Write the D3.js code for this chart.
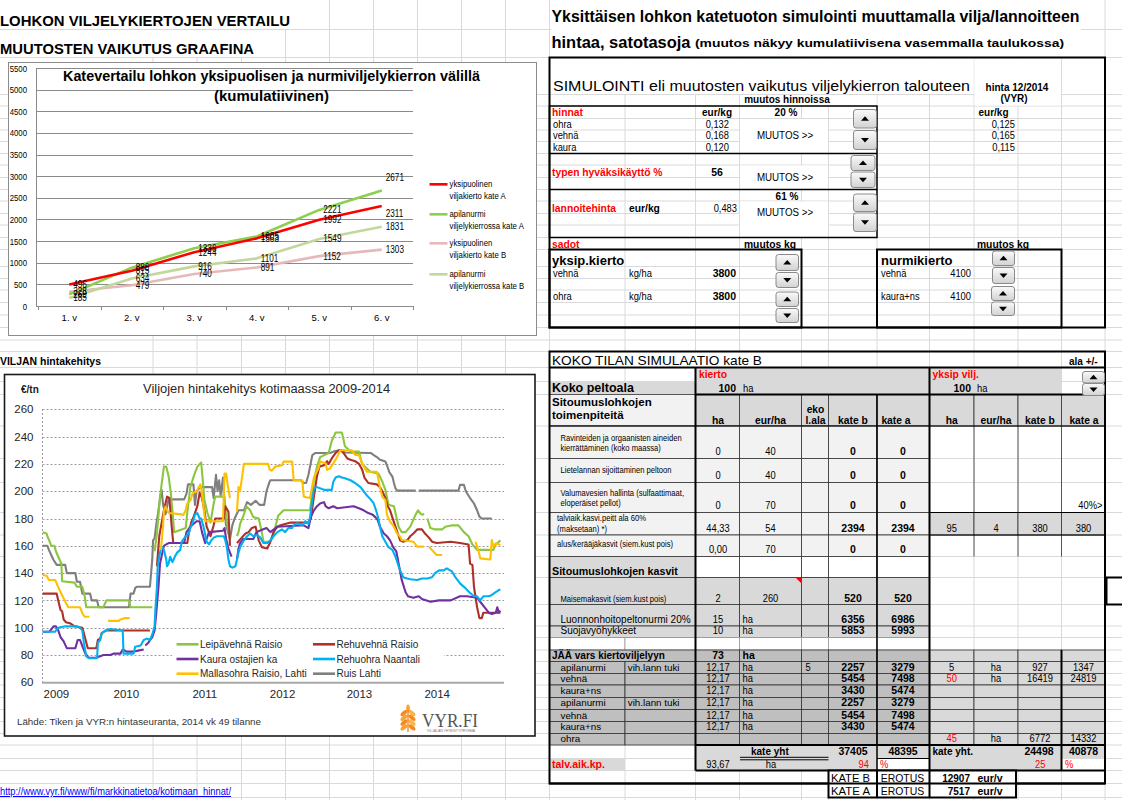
<!DOCTYPE html>
<html>
<head>
<meta charset="utf-8">
<script src="https://cdn.jsdelivr.net/npm/d3@7"></script>
<style>
  body { margin: 0; background: #fff; }
  svg { display: block; }
</style>
</head>
<body>
<script>
// ---------- kate chart (kumulatiivinen) ----------
var vuodet = ["1. v", "2. v", "3. v", "4. v", "5. v", "6. v"];
var kateTicks = [0, 500, 1000, 1500, 2000, 2500, 3000, 3500, 4000, 4500, 5000, 5500];
var yksipuolinenA = [496, 815, 1244, 1563, 1992, 2311];
var apilanurmiA = [269, 886, 1336, 1605, 2221, 2671];
var yksipuolinenB = [328, 479, 740, 891, 1152, 1303];
var apilanurmiB = [185, 634, 916, 1101, 1549, 1831];
var kateNimet = [["yksipuolinen", "viljakierto kate A"], ["apilanurmi", "viljelykierrossa kate A"],
                 ["yksipuolinen", "viljakierto kate B"], ["apilanurmi", "viljelykierrossa kate B"]];

// ---------- viljojen hinnat 2009-2014 (€/tn), segments of [vuosi, hinta] ----------
var hintaTicks = [60, 80, 100, 120, 140, 160, 180, 200, 220, 240, 260];
var vuosiLabels = ["2009", "2010", "2011", "2012", "2013", "2014"];
var vuosiPos = [2009.21, 2010.11, 2011.12, 2012.12, 2013.11, 2014.11];

var leipavehna = [
  [[2009.04,170],[2009.09,169],[2009.10,167],[2009.13,163],[2009.15,160],[2009.19,160],[2009.21,156],[2009.24,152],[2009.28,147],[2009.29,134],[2009.45,133],[2009.48,130],[2009.55,130],[2009.58,123],[2009.60,115],[2009.82,115],[2009.86,120],[2010.15,120],[2010.17,115],[2010.45,115]],
  [[2010.48,156],[2010.51,169],[2010.55,196],[2010.60,218],[2010.63,218],[2010.66,211],[2010.69,198],[2010.72,179],[2010.73,170],[2010.83,172],[2010.88,173],[2010.90,184],[2010.94,203],[2010.99,212],[2011.03,218],[2011.08,221],[2011.10,208],[2011.12,194],[2011.16,184],[2011.20,177],[2011.24,191],[2011.26,196],[2011.38,196],[2011.40,181],[2011.44,167]],
  [[2011.54,167],[2011.56,170],[2011.58,176],[2011.63,183],[2011.66,189],[2011.71,186],[2011.75,181],[2011.82,180],[2011.86,170],[2011.88,163],[2011.96,163],[2012.00,166],[2012.03,173],[2012.07,182],[2012.14,186],[2012.48,186],[2012.53,208],[2012.57,218],[2012.61,225],[2012.72,228],[2012.76,237],[2012.81,243],[2012.89,243],[2012.93,233],[2013.00,229],[2013.11,229],[2013.15,220],[2013.26,214],[2013.36,213],[2013.41,207],[2013.45,201],[2013.49,190],[2013.56,189],[2013.62,174],[2013.66,170],[2013.71,170],[2013.77,174],[2013.84,183],[2013.87,186],[2013.91,183],[2013.95,183]],
  [[2013.99,180],[2014.03,173],[2014.09,172],[2014.18,172],[2014.22,174],[2014.31,175],[2014.39,175],[2014.46,170],[2014.52,167],[2014.57,161],[2014.63,157],[2014.84,157],[2014.87,161],[2014.93,164]]
];
var rehuvehna = [
  [[2009.04,125],[2009.22,125],[2009.24,120],[2009.27,113],[2009.29,112],[2009.31,106],[2009.34,104],[2009.40,103],[2009.45,101],[2009.55,100],[2009.57,96],[2009.62,85],[2009.73,85],[2009.75,91],[2009.78,92],[2009.80,96],[2009.86,98],[2010.42,98]],
  [[2010.51,145],[2010.54,167],[2010.60,186],[2010.64,196],[2010.67,195],[2010.70,174],[2010.72,162],[2010.90,162],[2010.92,169],[2010.95,177],[2010.98,181],[2011.03,189],[2011.06,199],[2011.09,195],[2011.12,186],[2011.15,174],[2011.20,167],[2011.24,175],[2011.26,180],[2011.37,180],[2011.39,189],[2011.43,185],[2011.45,160]],
  [[2011.54,162],[2011.57,164],[2011.65,169],[2011.69,170],[2011.73,173],[2011.78,174],[2011.80,169],[2011.82,164],[2011.86,159],[2011.93,158],[2011.97,163],[2012.01,170],[2012.06,174],[2012.10,175],[2012.23,177],[2012.46,177],[2012.49,180],[2012.53,196],[2012.57,211],[2012.60,218],[2012.66,219],[2012.70,222],[2012.72,220],[2012.76,224],[2012.81,228],[2012.85,230],[2012.88,230],[2012.91,228],[2012.96,224],[2013.00,223],[2013.06,222],[2013.11,220],[2013.15,216],[2013.18,210],[2013.23,206],[2013.34,205],[2013.38,203],[2013.41,200],[2013.45,195],[2013.48,189],[2013.51,186],[2013.55,179],[2013.58,174],[2013.61,169],[2013.64,164],[2013.68,163],[2013.73,164],[2013.77,167],[2013.81,169],[2013.86,172],[2013.92,172],[2013.96,169],[2014.01,166],[2014.05,163],[2014.11,162],[2014.29,163],[2014.41,162],[2014.52,161],[2014.54,147],[2014.57,146],[2014.59,130],[2014.63,115],[2014.66,107],[2014.69,107],[2014.71,111],[2014.93,111]]
];
var kaura = [
  [[2009.04,97],[2009.12,97],[2009.14,98],[2009.18,101],[2009.21,101],[2009.24,98],[2009.27,93],[2009.31,90],[2009.35,85],[2009.46,85],[2009.49,91],[2009.52,91],[2009.56,85],[2009.59,81],[2009.63,78],[2009.72,78],[2009.78,79],[2009.82,80],[2009.91,80],[2009.95,81],[2010.04,81],[2010.07,84],[2010.12,82.5],[2010.21,82.5],[2010.25,83],[2010.34,84]],
  [[2010.36,87],[2010.40,89],[2010.42,91],[2010.45,93],[2010.48,98],[2010.50,110],[2010.53,130],[2010.55,147],[2010.58,155],[2010.60,160],[2010.63,161],[2010.66,162],[2010.86,162],[2010.89,170],[2010.94,174],[2010.98,176],[2011.02,178],[2011.06,178],[2011.09,170],[2011.13,162],[2011.18,170],[2011.36,171],[2011.38,173],[2011.40,165],[2011.43,158],[2011.47,152]],
  [[2011.54,150],[2011.56,158],[2011.58,162],[2011.62,165],[2011.75,165],[2011.79,170],[2011.87,172],[2011.92,173],[2011.97,170],[2012.06,174],[2012.23,174.5],[2012.40,175],[2012.46,173],[2012.49,181],[2012.53,186],[2012.57,189],[2012.61,191],[2012.66,192],[2012.68,189],[2012.72,187.5],[2012.78,189],[2012.83,187.5],[2013.04,189],[2013.11,187.5],[2013.17,186],[2013.23,184],[2013.28,183],[2013.32,181],[2013.35,179],[2013.38,174],[2013.43,169],[2013.47,167],[2013.51,164],[2013.55,159],[2013.59,156],[2013.62,147],[2013.66,135],[2013.71,126],[2013.74,123],[2013.81,122],[2013.88,123],[2013.92,121],[2014.03,119],[2014.14,120],[2014.29,120],[2014.41,123],[2014.50,123],[2014.63,122],[2014.67,119],[2014.74,114],[2014.78,111],[2014.82,110],[2014.87,111],[2014.89,115],[2014.91,111],[2014.93,112.5]]
];
var rehuohra = [
  [[2009.04,97],[2009.20,97],[2009.21,98],[2009.24,100],[2009.33,101],[2009.48,101],[2009.52,100],[2009.55,98],[2009.57,89],[2009.60,79],[2009.64,77.6],[2009.74,77.6],[2009.75,89],[2009.78,91],[2009.80,96],[2009.85,98],[2009.91,99],[2010.07,98],[2010.08,81],[2010.21,81],[2010.23,86],[2010.30,87],[2010.34,91],[2010.38,92],[2010.42,91],[2010.45,95],[2010.48,101],[2010.49,113],[2010.51,130],[2010.52,145],[2010.54,152],[2010.56,158],[2010.58,159],[2010.60,157],[2010.63,150],[2010.64,145],[2010.66,147],[2010.68,152],[2010.71,148],[2010.74,152],[2010.77,155],[2010.81,157],[2010.83,163],[2010.88,167],[2010.92,169],[2010.94,173],[2010.97,177],[2011.00,183],[2011.03,184],[2011.06,180],[2011.08,180],[2011.11,174],[2011.15,163],[2011.18,161],[2011.21,164],[2011.24,166],[2011.28,167],[2011.37,167],[2011.39,164],[2011.41,159],[2011.43,150],[2011.45,145],[2011.48,144],[2011.52,145],[2011.54,150],[2011.56,155],[2011.58,159],[2011.63,164],[2011.67,167],[2011.71,169],[2011.75,167],[2011.80,168],[2011.84,166],[2011.88,162],[2011.93,162],[2011.97,164],[2012.01,167],[2012.06,170],[2012.12,172],[2012.16,170],[2012.20,173],[2012.25,173],[2012.27,175],[2012.31,176.5],[2012.38,175],[2012.42,178],[2012.46,176],[2012.48,181],[2012.51,194],[2012.53,202],[2012.57,203],[2012.66,201],[2012.76,201],[2012.78,207],[2012.81,210],[2012.85,211],[2012.89,210],[2012.93,209.5],[2013.00,208],[2013.06,206],[2013.13,203],[2013.17,200],[2013.21,197],[2013.26,194],[2013.30,191],[2013.33,186],[2013.36,180],[2013.38,174],[2013.41,167],[2013.45,163],[2013.49,159],[2013.54,157],[2013.58,152],[2013.62,145],[2013.64,142],[2013.68,137],[2013.73,136],[2013.77,135.5],[2013.86,135],[2013.92,136],[2013.99,136],[2014.05,137],[2014.09,140],[2014.14,142],[2014.20,142],[2014.24,143.5],[2014.31,141],[2014.35,137],[2014.41,132.5],[2014.48,129],[2014.53,126],[2014.59,123],[2014.63,123],[2014.67,120],[2014.71,123],[2014.78,123],[2014.82,124],[2014.87,126],[2014.91,127.6],[2014.93,128]]
];
var mallasohra = [
  [[2009.04,138.6],[2009.09,138],[2009.12,135],[2009.20,135],[2009.23,131],[2009.27,126],[2009.31,121.5],[2009.34,118],[2009.37,115],[2009.52,115],[2009.55,110.6],[2009.58,108],[2009.64,108]],
  [[2009.88,105],[2010.02,105],[2010.04,106],[2010.09,107],[2010.16,107]],
  [[2010.56,157],[2010.59,175],[2010.60,186],[2010.62,188.7],[2010.66,184],[2010.83,183],[2010.85,182.6],[2010.88,186],[2010.90,191],[2010.94,193],[2010.97,198.5],[2011.02,200],[2011.07,205],[2011.09,198],[2011.13,178],[2011.36,178],[2011.38,213],[2011.40,213],[2011.42,205],[2011.45,195]],
  [[2011.54,185],[2011.56,203],[2011.58,200],[2011.63,220],[2011.94,220],[2011.96,216],[2011.99,215],[2012.03,218],[2012.12,219],[2012.14,221.7],[2012.25,221.7],[2012.27,208],[2012.38,208],[2012.40,196],[2012.48,195],[2012.53,210],[2012.59,217],[2012.61,221.7],[2012.68,220.4],[2012.70,215.6],[2012.74,216.8],[2012.78,220.4],[2012.83,225.3],[2012.87,230],[2013.02,230],[2013.06,226.5],[2013.11,226.5],[2013.15,220.4],[2013.21,214.3],[2013.34,214.3],[2013.38,203],[2013.41,196],[2013.45,193.6],[2013.47,182.6],[2013.51,177.7],[2013.56,174],[2013.60,169],[2013.64,166.7],[2013.66,164.3],[2013.81,163],[2013.86,159.4],[2013.94,159.4]],
  [[2014.01,159.4],[2014.07,155.7],[2014.11,153.3],[2014.18,153.3]],
  [[2014.61,163],[2014.65,155.7],[2014.67,150.8],[2014.80,150],[2014.82,164.3],[2014.84,159.4],[2014.87,161.8],[2014.93,160.6]]
];
var ruis = [
  [[2009.04,160],[2009.10,160],[2009.12,157],[2009.16,152],[2009.18,149.6],[2009.22,146],[2009.33,146],[2009.35,140],[2009.46,140],[2009.48,133.7],[2009.52,133.7],[2009.55,125],[2009.65,125],[2009.67,120],[2009.74,120],[2009.76,115],[2010.15,115],[2010.17,125],[2010.21,125],[2010.23,129],[2010.25,130],[2010.42,130],[2010.45,150],[2010.46,164],[2010.48,165.5],[2010.50,175],[2010.53,186],[2010.55,195],[2010.57,201],[2010.59,190],[2010.62,183],[2010.66,194],[2010.86,194],[2010.89,198],[2010.91,205],[2010.98,205],[2011.00,190],[2011.02,200],[2011.07,203],[2011.22,203],[2011.24,195],[2011.27,212],[2011.29,200],[2011.31,208],[2011.33,197],[2011.36,210],[2011.38,185],[2011.40,175],[2011.45,165],[2011.48,175],[2011.51,180],[2011.56,186],[2011.63,186],[2011.67,192],[2011.72,190],[2011.78,193],[2011.83,190],[2011.89,190],[2011.92,200],[2011.96,207],[2011.97,208],[2012.36,208],[2012.40,206],[2012.43,206],[2012.46,212],[2012.51,226.5],[2012.55,228],[2012.74,228],[2012.78,229],[2012.83,229.7],[2012.91,229.7],[2012.93,228.3],[2013.26,228],[2013.30,226.5],[2013.34,225],[2013.38,223],[2013.45,221.7],[2013.47,219],[2013.50,214],[2013.54,210.7],[2013.56,206],[2013.58,202],[2013.60,200.4],[2013.84,200.4]],
  [[2013.88,200.4],[2014.39,200.4],[2014.41,204.6],[2014.46,204.6],[2014.48,201],[2014.50,198.5],[2014.54,195],[2014.59,191],[2014.63,186],[2014.66,181.4],[2014.69,180],[2014.82,180]]
];
var hintaNimet = ["Leipävehnä Raisio", "Rehuvehnä Raisio", "Kaura ostajien ka", "Rehuohra Naantali", "Mallasohra Raisio, Lahti", "Ruis Lahti"];

// ---------- simulointi taulukot ----------
var hinnat = [["ohra", "0,132", "0,125"], ["vehnä", "0,168", "0,165"], ["kaura", "0,120", "0,115"]];
var hintaMuutos = "20 %", typenHyoty = "56", lannoiteMuutos = "61 %", lannoiteHinta = "0,483";
var yksipSadot = [["vehnä", "kg/ha", "3800"], ["ohra", "kg/ha", "3800"]];
var nurmiSadot = [["vehnä", "4100"], ["kaura+ns", "4100"]];

var toimenpiteet = [
  {teksti: ["Ravinteiden ja orgaanisten aineiden", "kierrättäminen (koko maassa)"], arvot: ["0", "40", "0", "0"]},
  {teksti: ["Lietelannan sijoittaminen peltoon"], arvot: ["0", "40", "0", "0"]},
  {teksti: ["Valumavesien hallinta (sulfaattimaat,", "eloperäiset pellot)"], arvot: ["0", "70", "0", "0"], oikea: ["", "", "", "40%>"]},
  {teksti: ["talviaik.kasvi.peitt ala 60%", "(maksetaan) *)"], arvot: ["44,33", "54", "2394", "2394"], oikea: ["95", "4", "380", "380"]},
  {teksti: ["alus/kerääjäkasvit (siem.kust pois)"], arvot: ["0,00", "70", "0", "0"]}
];
var kasvit = [["Maisemakasvit (siem.kust pois)", "2", "260", "520", "520"],
              ["Luonnonhoitopeltonurmi 20%", "15", "ha", "6356", "6986"],
              ["Suojavyöhykkeet", "10", "ha", "5853", "5993"]];
var kierto = [["apilanurmi", "vih.lann tuki", "12,17", "ha", "5", "2257", "3279"],
              ["vehnä", "", "12,17", "ha", "", "5454", "7498"],
              ["kaura+ns", "", "12,17", "ha", "", "3430", "5474"],
              ["apilanurmi", "vih.lann tuki", "12,17", "ha", "", "2257", "3279"],
              ["vehnä", "", "12,17", "ha", "", "5454", "7498"],
              ["kaura+ns", "", "12,17", "ha", "", "3430", "5474"],
              ["ohra", "", "", "", "", "", ""]];
var yksipVilj = [["5", "ha", "927", "1347"], ["50", "ha", "16419", "24819"], null, null, null, null, ["45", "ha", "6772", "14332"]];
var kateYht = ["37405", "48395", "24498", "40878"];
var talvAik = ["93,67", "94", "25"];
var erotus = [["KATE B", "12907"], ["KATE A", "7517"]];

// =====================================================================
var W = 1122, H = 800;
var SANS = '"Liberation Sans", Arial, sans-serif';
var NW = 0.82;   // horizontal squeeze used for the narrow spreadsheet font
var svg = d3.select("body").append("svg").attr("width", W).attr("height", H);
svg.append("rect").attr("width", W).attr("height", H).attr("fill", "#fff");

function txt(g, x, y, s, o) {
  o = o || {};
  var t = g.append("text").text(s)
    .attr("font-family", o.f || SANS).attr("font-size", o.sz || 10)
    .attr("fill", o.c || "#000");
  if (o.n) t.attr("transform", "translate(" + x + "," + y + ") scale(" + o.n + ",1)");
  else t.attr("x", x).attr("y", y);
  if (o.b) t.attr("font-weight", "bold");
  if (o.a) t.attr("text-anchor", o.a);
  if (o.tl) t.attr("textLength", o.tl).attr("lengthAdjust", "spacingAndGlyphs");
  if (o.u) t.attr("text-decoration", "underline");
  return t;
}
function box(g, x0, y0, x1, y1, fill, stroke, sw) {
  return g.append("rect").attr("x", x0).attr("y", y0).attr("width", x1 - x0).attr("height", y1 - y0)
    .attr("fill", fill || "none").attr("stroke", stroke || "none").attr("stroke-width", sw || 1);
}
function ln(g, x0, y0, x1, y1, c, sw, dash) {
  var l = g.append("line").attr("x1", x0).attr("y1", y0).attr("x2", x1).attr("y2", y1)
    .attr("stroke", c || "#000").attr("stroke-width", sw || 1);
  if (dash) l.attr("stroke-dasharray", dash);
  return l;
}

// ---------- sheet grid ----------
var sheetCols = [153, 197, 241.5, 285.5, 329.5, 373.5, 417.5, 461.5, 505.5, 549.5, 625, 695.5, 739.5, 801.5, 828.5, 877, 929.5, 974, 1018, 1061.5, 1105];
var sheetRows = [29.5, 57.5, 94.5, 106, 118.5, 130, 141.5, 153.5, 165, 177.5, 189.5, 201, 213.5, 225, 237.5, 249.5, 266.5, 278.5, 290, 302.5, 315, 327.5, 340, 351.5, 367.5, 381.5, 394.5, 426, 458.5, 482.5, 512.5, 535, 556.5, 577.5, 604.5, 626, 637.5, 650, 661.5, 673.5, 685, 697.5, 709.5, 721.5, 733.5, 745, 758.5, 770.5, 783.5, 797.5];
var grid = svg.append("g");
sheetCols.forEach(function (x) { ln(grid, x, 0, x, H, "#dadada", 1); });
sheetRows.forEach(function (y) { ln(grid, 0, y, W, y, "#dadada", 1); });
var masks = [[0, 0, 329, 29], [0, 30, 285, 57], [551, 0, 1081, 57],
             [551, 58.5, 973.5, 94], [974.5, 58.5, 1061, 105.5], [740, 95, 876.5, 105.5],
             [740, 119, 828, 153], [740, 165.5, 828, 189], [740, 201.5, 828, 237], [551, 352.5, 800, 367]];
masks.forEach(function (m) { box(grid, m[0], m[1], m[2], m[3], "#fff"); });

// ---------- left titles ----------
txt(svg, 0, 26, "LOHKON VILJELYKIERTOJEN VERTAILU", {b: 1, sz: 15, tl: 290});
txt(svg, 0, 53.5, "MUUTOSTEN VAIKUTUS GRAAFINA", {b: 1, sz: 15, tl: 254});

// ---------- kate chart ----------
var c1 = svg.append("g");
box(c1, 8.5, 62.5, 536.5, 335.5, "#fff", "#8c8c8c", 1);
var yK = d3.scaleLinear().domain([0, 5500]).range([306, 68]);
var xK = d3.scaleBand().domain(vuodet).range([38, 413]);
kateTicks.forEach(function (v) { ln(c1, 36, Math.round(yK(v)) + 0.5, 413, Math.round(yK(v)) + 0.5, "#8a8a8a", 1); });
ln(c1, 36.5, 68, 36.5, 306, "#8a8a8a", 1);
d3.range(7).forEach(function (i) { var x = Math.round(38 + i * xK.bandwidth()) + 0.5; ln(c1, x, 306, x, 310, "#8a8a8a", 1); });
var axL = c1.append("g").attr("transform", "translate(36,0)")
  .call(d3.axisLeft(yK).tickValues(kateTicks).tickFormat(d3.format("d")).tickSize(0).tickPadding(11));
axL.select(".domain").remove();
axL.selectAll("text").attr("font-family", SANS).attr("font-size", 9.5).attr("fill", "#000").attr("transform", "scale(" + NW + ",1)");
var axB = c1.append("g").attr("transform", "translate(0,306)")
  .call(d3.axisBottom(xK).tickSize(0).tickPadding(8));
axB.select(".domain").remove();
axB.selectAll("text").attr("font-family", SANS).attr("font-size", 9.5).attr("fill", "#000");

txt(c1, 271.5, 80.5, "Katevertailu lohkon yksipuolisen ja nurmiviljelykierron välillä", {b: 1, sz: 14.5, a: "middle", tl: 417});
txt(c1, 271.5, 101, "(kumulatiivinen)", {b: 1, sz: 14.5, a: "middle", tl: 115});

var kateSarjat = [
  {arvot: yksipuolinenB, vari: "#e6b9b8", leg: 2},
  {arvot: apilanurmiB, vari: "#c3d69b", leg: 3},
  {arvot: apilanurmiA, vari: "#8ccf4d", leg: 1},
  {arvot: yksipuolinenA, vari: "#ff0000", leg: 0}
];
var lineK = d3.line().x(function (d, i) { return xK(vuodet[i]) + xK.bandwidth() / 2; }).y(function (d) { return yK(d); });
kateSarjat.forEach(function (s) {
  c1.append("path").attr("d", lineK(s.arvot)).attr("fill", "none").attr("stroke", s.vari)
    .attr("stroke-width", 2.6).attr("stroke-linejoin", "round");
});
var labelShift = {"1-5": -13, "0-5": 8};
kateSarjat.forEach(function (s) {
  s.arvot.forEach(function (v, i) {
    var dy = labelShift[s.leg + "-" + i] || 0;
    txt(c1, xK(vuodet[i]) + xK.bandwidth() / 2 + 4, yK(v) + 3.5 + dy, v, {n: NW, sz: 10});
  });
});
var legY = [184.3, 214.3, 243.3, 274.3];
[0, 1, 2, 3].forEach(function (i) {
  var s = kateSarjat.filter(function (d) { return d.leg === i; })[0];
  ln(c1, 429.5, legY[i], 447.5, legY[i], s.vari, 2.6);
  txt(c1, 449.5, legY[i] + 3, kateNimet[i][0], {n: NW, sz: 9.5});
  txt(c1, 449.5, legY[i] + 14.5, kateNimet[i][1], {n: NW, sz: 9.5});
});

// ---------- price chart ----------
txt(svg, 0, 365, "VILJAN hintakehitys", {b: 1, sz: 10, tl: 101});
var gP = svg.append("g");
box(gP, 4.5, 374.5, 535, 736, "#fff", "#1a1a1a", 1.6);
var xP = d3.scaleLinear().domain([2009.04, 2014.93]).range([42.7, 500.4]);
var yP = d3.scaleLinear().domain([60, 260]).range([682.3, 409.3]);
txt(gP, 21, 393, "€/tn", {b: 1, sz: 10, c: "#1a1a1a"});
txt(gP, 266.6, 393, "Viljojen hintakehitys  kotimaassa 2009-2014", {sz: 12.5, a: "middle", c: "#262626", tl: 247});
hintaTicks.slice(1).forEach(function (v) { ln(gP, 42.5, Math.round(yP(v)) + 0.5, 504, Math.round(yP(v)) + 0.5, "#9a9a9a", 1, "2,2"); });
ln(gP, 42.5, 409, 42.5, 682.3, "#9a9a9a", 1, "2,2");
ln(gP, 42, 682.8, 504, 682.8, "#a8a8a8", 2);
var axPL = gP.append("g").attr("transform", "translate(42.5,0)")
  .call(d3.axisLeft(yP).tickValues(hintaTicks).tickSize(0).tickPadding(9));
axPL.select(".domain").remove();
axPL.selectAll("text").attr("font-family", SANS).attr("font-size", 11.5).attr("fill", "#262626");
var axPB = gP.append("g").attr("transform", "translate(0,682.3)")
  .call(d3.axisBottom(xP).tickValues(vuosiPos).tickFormat(function (d, i) { return vuosiLabels[i]; }).tickSize(0).tickPadding(8));
axPB.select(".domain").remove();
axPB.selectAll("text").attr("font-family", SANS).attr("font-size", 11.5).attr("fill", "#262626");

box(gP, 172, 636, 444, 680, "#fff");
var hintaSarjat = [
  {data: ruis, vari: "#7f7f7f"},
  {data: leipavehna, vari: "#8cc63f"},
  {data: rehuvehna, vari: "#ad3128"},
  {data: kaura, vari: "#7030a0"},
  {data: rehuohra, vari: "#00b0f0"},
  {data: mallasohra, vari: "#ffc000"}
];
var lineP = d3.line().x(function (d) { return xP(d[0]); }).y(function (d) { return yP(d[1]); });
hintaSarjat.forEach(function (s) {
  s.data.forEach(function (seg) {
    gP.append("path").attr("d", lineP(seg)).attr("fill", "none").attr("stroke", s.vari)
      .attr("stroke-width", 2.1).attr("stroke-linejoin", "round");
  });
});
var legVari = ["#8cc63f", "#ad3128", "#7030a0", "#00b0f0", "#ffc000", "#7f7f7f"];
var legRowY = [644.3, 659, 673.7];
hintaNimet.forEach(function (n, i) {
  var col = i % 2, row = Math.floor(i / 2);
  var x0 = col ? 313 : 176.5, y = legRowY[row];
  ln(gP, x0, y, x0 + 22, y, legVari[i], 2.6);
  txt(gP, x0 + 23.5, y + 3.6, n, {sz: 10, c: "#262626"});
});
txt(gP, 17, 724.5, "Lähde: Tiken ja VYR:n  hintaseuranta, 2014 vk 49 tilanne", {sz: 9.7, c: "#333", tl: 244});
// VYR.FI logo
var logo = gP.append("g");
[0, 1, 2, 3].forEach(function (i) {
  logo.append("ellipse").attr("cx", 404).attr("cy", 713 + i * 4.8).attr("rx", 4.2).attr("ry", 2)
    .attr("transform", "rotate(-40," + 404 + "," + (713 + i * 4.8) + ")").attr("fill", i % 2 ? "#f7a136" : "#f58a1f");
  logo.append("ellipse").attr("cx", 412).attr("cy", 713 + i * 4.8).attr("rx", 4.2).attr("ry", 2)
    .attr("transform", "rotate(40," + 412 + "," + (713 + i * 4.8) + ")").attr("fill", i % 2 ? "#f58a1f" : "#fbb351");
});
logo.append("ellipse").attr("cx", 408).attr("cy", 708.5).attr("rx", 1.8).attr("ry", 4).attr("fill", "#f7a136");
logo.append("rect").attr("x", 407.3).attr("y", 710).attr("width", 1.4).attr("height", 22).attr("fill", "#f58a1f");
txt(logo, 422, 727, "VYR.FI", {f: '"Liberation Serif", "DejaVu Serif", serif', sz: 19, c: "#555", tl: 56});
txt(logo, 427, 732, "VILJALAN YHTEISTYÖRYHMÄ", {sz: 3, c: "#777", tl: 48});

txt(svg, 0, 795, "http://www.vyr.fi/www/fi/markkinatietoa/kotimaan_hinnat/", {sz: 10, c: "#0000ff", u: 1, tl: 231});

// ---------- right header ----------
txt(svg, 551.5, 22, "Yksittäisen lohkon katetuoton simulointi muuttamalla vilja/lannoitteen", {b: 1, sz: 17, tl: 528});
txt(svg, 551.5, 47.5, "hintaa, satotasoja", {b: 1, sz: 17, tl: 139});
txt(svg, 695, 47, "(muutos näkyy kumulatiivisena vasemmalla taulukossa)", {b: 1, sz: 11, tl: 369});

// ---------- buttons ----------
var defs = svg.append("defs");
var gr = defs.append("linearGradient").attr("id", "btn").attr("x1", 0).attr("y1", 0).attr("x2", 0).attr("y2", 1);
gr.append("stop").attr("offset", "0").attr("stop-color", "#fafafa");
gr.append("stop").attr("offset", "1").attr("stop-color", "#d2d2d2");
function nappi(g, x, y, w, h, up) {
  g.append("rect").attr("x", x + 0.5).attr("y", y + 0.5).attr("width", w).attr("height", h).attr("rx", 2.5)
    .attr("fill", "url(#btn)").attr("stroke", "#8a8a8a");
  var cx = x + w / 2 + 0.5, cy = y + h / 2 + 0.5;
  var p = up ? [[cx - 4, cy + 2], [cx + 4, cy + 2], [cx, cy - 2.5]] : [[cx - 4, cy - 2], [cx + 4, cy - 2], [cx, cy + 2.5]];
  g.append("path").attr("d", "M" + p.join("L") + "Z").attr("fill", "#000");
}

// ---------- SIMULOINTI panel ----------
var sp = svg.append("g");
var R = {n: 0.85, sz: 11};   // regular narrow cell text
txt(sp, 553, 90.5, "SIMULOINTI eli muutosten vaikutus viljelykierron talouteen", {sz: 14, tl: 417});
txt(sp, 1017, 90.5, "hinta 12/2014", {b: 1, sz: 10, a: "middle"});
txt(sp, 1014, 101.5, "(VYR)", {b: 1, sz: 10, a: "middle"});
txt(sp, 787, 103, "muutos hinnoissa", {b: 1, sz: 10, a: "middle"});
txt(sp, 552, 115.5, "hinnat", {b: 1, sz: 10.3, c: "#ff0000"});
txt(sp, 717, 115.5, "eur/kg", {b: 1, sz: 10, a: "middle"});
txt(sp, 786, 115.5, hintaMuutos, {b: 1, sz: 10, a: "middle"});
txt(sp, 993.5, 115.5, "eur/kg", {b: 1, sz: 10, a: "middle"});
var hintaY = [127.5, 139, 150.5];
hinnat.forEach(function (h, i) {
  txt(sp, 553, hintaY[i], h[0], R);
  txt(sp, 729, hintaY[i], h[1], {n: 0.85, sz: 11, a: "end"});
  txt(sp, 1015, hintaY[i], h[2], {n: 0.85, sz: 11, a: "end"});
});
txt(sp, 785, 139, "MUUTOS >>", {n: 0.85, sz: 11.5, a: "middle"});
txt(sp, 552, 175.5, "typen hyväksikäyttö %", {b: 1, sz: 10.3, c: "#ff0000"});
txt(sp, 717, 175.5, typenHyoty, {b: 1, sz: 10.5, a: "middle"});
txt(sp, 785, 180.5, "MUUTOS >>", {n: 0.85, sz: 11.5, a: "middle"});
txt(sp, 787, 199.5, lannoiteMuutos, {b: 1, sz: 10, a: "middle"});
txt(sp, 552, 211.5, "lannoitehinta", {b: 1, sz: 10.3, c: "#ff0000"});
txt(sp, 629, 211.5, "eur/kg", {b: 1, sz: 10.3});
txt(sp, 737, 211.5, lannoiteHinta, {n: 0.85, sz: 11, a: "end"});
txt(sp, 785, 216, "MUUTOS >>", {n: 0.85, sz: 11.5, a: "middle"});
txt(sp, 552, 247.5, "sadot", {b: 1, sz: 10.3, c: "#ff0000"});
txt(sp, 770, 247.5, "muutos kg", {b: 1, sz: 10.3, a: "middle"});
txt(sp, 1003, 247.5, "muutos kg", {b: 1, sz: 10.3, a: "middle"});
txt(sp, 552, 264.5, "yksip.kierto", {b: 1, sz: 13});
txt(sp, 881, 264.5, "nurmikierto", {b: 1, sz: 13});
var sadotY = [277, 300];
yksipSadot.forEach(function (s, i) {
  txt(sp, 553, sadotY[i], s[0], R);
  txt(sp, 629, sadotY[i], s[1], R);
  txt(sp, 736, sadotY[i], s[2], {b: 1, sz: 10.5, a: "end"});
});
nurmiSadot.forEach(function (s, i) {
  txt(sp, 881, sadotY[i], s[0], R);
  txt(sp, 971, sadotY[i], s[1], {n: 0.85, sz: 11, a: "end"});
});
// borders
box(sp, 549.5, 106, 877, 237.5, "none", "#000", 1.5);
ln(sp, 549.5, 153.5, 877, 153.5, "#000", 1.5);
ln(sp, 549.5, 189.5, 877, 189.5, "#000", 1.5);
box(sp, 549.5, 249.5, 801.5, 327.5, "none", "#000", 2);
box(sp, 877, 249.5, 1061.5, 327.5, "none", "#000", 2);
box(sp, 549.5, 57.5, 1105, 327.5, "none", "#000", 2);
[[853, 109, 23, 18.5, 1], [853, 130, 23, 19, 0], [850.5, 155, 24, 15, 1], [850.5, 171.5, 24, 15.5, 0],
 [853, 193.5, 23, 17.5, 1], [853, 212.5, 23, 18.5, 0],
 [775.5, 254, 22.5, 16, 1], [775.5, 272, 22.5, 15, 0], [775.5, 291.5, 22.5, 14.5, 1], [775.5, 308, 22.5, 14, 0],
 [992, 250.5, 22, 14.5, 1], [992, 267, 22, 16, 0], [991, 286, 23, 14, 1], [991, 301.5, 23, 13.5, 0]]
  .forEach(function (b) { nappi(sp, b[0], b[1], b[2], b[3], b[4]); });

// ---------- KOKO TILAN panel ----------
var kp = svg.append("g");
var C = [549.5, 625, 695.5, 739.5, 801.5, 828.5, 877, 929.5, 974, 1018, 1061.5, 1105];
var L1 = "#9a9a9a", L2 = "#333";
var G1 = "#d9d9d9", G2 = "#bfbfbf", G0 = "#f2f2f2";
function cells(y0, y1, xs, fill, stroke) {
  for (var i = 0; i < xs.length - 1; i++) box(kp, xs[i], y0, xs[i + 1], y1, fill, stroke || L2, 0.8);
}
box(kp, 695.5, 367.5, 929.5, 394.5, G1);
box(kp, 929.5, 367.5, 1061.5, 394.5, G1);
box(kp, 549.5, 381.5, 695.5, 394.5, G1);
box(kp, 549.5, 394.5, 695.5, 426, G0, L2, 0.8);
cells(394.5, 426, C.slice(2), G1);
var toimRows = [[426, 458.5], [458.5, 482.5], [482.5, 512.5], [512.5, 535], [535, 556.5]];
toimRows.forEach(function (r, i) {
  box(kp, 549.5, r[0], 695.5, r[1], G0, L2, 0.8);
  cells(r[0], r[1], C.slice(2, 8), G0);
  if (i === 3) cells(r[0], r[1], C.slice(7), G1);
});
C.slice(8, 11).forEach(function (x) { ln(kp, x, 426, x, 512.5, L2, 0.8); ln(kp, x, 535, x, 556.5, L2, 0.8); });
box(kp, 549.5, 556.5, 695.5, 577.5, G1, L2, 0.8);
cells(556.5, 577.5, C.slice(2, 8), "#fff");
var kasviRows = [[577.5, 604.5], [604.5, 626], [626, 637.5]];
kasviRows.forEach(function (r) {
  box(kp, 549.5, r[0], 695.5, r[1], G1, L2, 0.8);
  cells(r[0], r[1], C.slice(2, 8), G1);
});
cells(637.5, 650, C.slice(0, 8), "#fff", L1);
box(kp, 549.5, 650, 695.5, 661.5, G2, L2, 0.8);
cells(650, 661.5, C.slice(2, 8), G2);
cells(650, 661.5, C.slice(7), G1);
var kiertoY = [661.5, 673.5, 685, 697.5, 709.5, 721.5, 733.5, 745];
for (var r = 0; r < 7; r++) {
  cells(kiertoY[r], kiertoY[r + 1], C.slice(0, 8), G2);
  cells(kiertoY[r], kiertoY[r + 1], C.slice(7), G1);
}
box(kp, 695.5, 745, 1105, 758.5, G1);
box(kp, 549.5, 758.5, 625, 770.5, G1);
box(kp, 695.5, 758.5, 877, 770.5, G1);
box(kp, 929.5, 758.5, 1061.5, 770.5, G1);
ln(kp, 740, 757.3, 828.5, 757.3, "#000", 1);
ln(kp, 740, 759.8, 828.5, 759.8, "#000", 1);
ln(kp, 877, 758.5, 929.5, 758.5, "#000", 1);
var T = 2;
ln(kp, 695.5, 367.5, 695.5, 770.5, "#000", T);
ln(kp, 929.5, 367.5, 929.5, 770.5, "#000", T);
ln(kp, 877, 394.5, 877, 770.5, "#000", 1.5);
ln(kp, 1061.5, 650, 1061.5, 770.5, "#000", T);
ln(kp, 695.5, 394.5, 1105, 394.5, "#000", T);
ln(kp, 549.5, 426, 1105, 426, "#000", 1.2);
ln(kp, 929.5, 512.5, 1105, 512.5, "#000", 1.2);
ln(kp, 929.5, 535, 1105, 535, "#000", 1.2);
ln(kp, 695.5, 745, 1105, 745, "#000", T);
ln(kp, 695.5, 770.5, 1105, 770.5, "#000", T);
box(kp, 549.5, 351.5, 1105, 783.5, "none", "#000", T);
ln(kp, 549.5, 367.5, 1105, 367.5, "#000", T);
ln(kp, 549.5, 783.5, 1105, 783.5, "#000", T);
box(kp, 828.5, 770.5, 1016, 797.5, "#fff", "#000", T);
ln(kp, 828.5, 783.5, 1016, 783.5, "#000", T);
ln(kp, 877, 770.5, 877, 797.5, "#000", T);
ln(kp, 929.5, 770.5, 929.5, 797.5, "#000", T);
box(kp, 1106.5, 577.5, 1130, 604.5, "none", "#000", T);
kp.append("path").attr("d", "M795.5,577.5L801.5,577.5L801.5,583.5Z").attr("fill", "#ff0000");
nappi(kp, 1082, 371, 22, 11.5, 1);
nappi(kp, 1082, 383, 22, 12, 0);

txt(kp, 552, 365, "KOKO TILAN SIMULAATIO kate B", {sz: 13, tl: 210});
txt(kp, 1069, 364.5, "ala +/-", {b: 1, sz: 10});
txt(kp, 699, 377.5, "kierto", {b: 1, sz: 10.3, c: "#ff0000"});
txt(kp, 736, 391.5, "100", {b: 1, sz: 10.5, a: "end"});
txt(kp, 743, 391.5, "ha", R);
txt(kp, 932.5, 377.5, "yksip vilj.", {b: 1, sz: 10.3, c: "#ff0000"});
txt(kp, 971, 391.5, "100", {b: 1, sz: 10.5, a: "end"});
txt(kp, 977, 391.5, "ha", R);
txt(kp, 552, 391.5, "Koko peltoala", {b: 1, sz: 12.5});
txt(kp, 552, 406, "Sitoumuslohkojen", {b: 1, sz: 11.5});
txt(kp, 552, 418.5, "toimenpiteitä", {b: 1, sz: 11.5});
var colX = [718, 770.5, 853, 903], rightX = [951.7, 996, 1040, 1083.5];
[["ha", 718], ["eur/ha", 770.5], ["kate b", 853], ["kate a", 896], ["ha", 951.7], ["eur/ha", 996], ["kate b", 1040], ["kate a", 1084]]
  .forEach(function (h) { txt(kp, h[1], 423.5, h[0], {b: 1, sz: 10.3, a: "middle"}); });
txt(kp, 815.5, 412.5, "eko", {b: 1, sz: 10.3, a: "middle"});
txt(kp, 815.5, 423.5, "l.ala", {b: 1, sz: 10.3, a: "middle"});

var RC = {n: 0.85, sz: 11, a: "middle"};
var toimTextY = [[440.7, 450.7], [473.3], [496, 506], [520.7, 531.7], [547.3]];
var toimValY = [455.3, 479.3, 509.3, 531.7, 553.3];
toimenpiteet.forEach(function (t, i) {
  t.teksti.forEach(function (s, j) {
    txt(kp, i === 3 || i === 4 ? 557 : 560.5, toimTextY[i][j], s, {n: NW, sz: 9.3});
  });
  t.arvot.forEach(function (v, j) {
    txt(kp, colX[j], toimValY[i], v, j > 1 ? {b: 1, sz: 10.5, a: "middle"} : RC);
  });
  if (t.oikea) t.oikea.forEach(function (v, j) {
    if (v === "40%>") txt(kp, 1102.5, toimValY[i], v, {n: 0.85, sz: 11, a: "end"});
    else txt(kp, rightX[j], toimValY[i], v, RC);
  });
});
txt(kp, 552, 575, "Sitoumuslohkojen kasvit", {b: 1, sz: 10.7});
var kasviY = [601.5, 622.7, 634.3];
kasvit.forEach(function (k, i) {
  txt(kp, 560.5, kasviY[i], k[0], i === 0 ? {n: NW, sz: 9.3} : {sz: 10});
  txt(kp, 718, kasviY[i], k[1], RC);
  if (k[2] === "ha") txt(kp, 742.6, kasviY[i], k[2], R);
  else txt(kp, 770.5, kasviY[i], k[2], RC);
  txt(kp, 853, kasviY[i], k[3], {b: 1, sz: 10.5, a: "middle"});
  txt(kp, 903, kasviY[i], k[4], {b: 1, sz: 10.5, a: "middle"});
});
txt(kp, 552, 659, "JÄÄ vars kiertoviljelyyn", {b: 1, sz: 10});
txt(kp, 718, 659, "73", {b: 1, sz: 10.5, a: "middle"});
txt(kp, 742.6, 659, "ha", {b: 1, sz: 10.5});
var kiertoTY = [670.7, 682.3, 694.3, 706.3, 718.7, 730.3, 742.3];
kierto.forEach(function (k, i) {
  var y = kiertoTY[i];
  txt(kp, 560.5, y, k[0], {sz: 9.8});
  txt(kp, 627.8, y, k[1], {sz: 9.8});
  txt(kp, 718, y, k[2], RC);
  txt(kp, 742.6, y, k[3], R);
  txt(kp, 805.5, y, k[4], R);
  txt(kp, 853, y, k[5], {b: 1, sz: 10.5, a: "middle"});
  txt(kp, 903, y, k[6], {b: 1, sz: 10.5, a: "middle"});
  var yv = yksipVilj[i];
  if (yv) yv.forEach(function (v, j) {
    txt(kp, rightX[j], y, v, {n: 0.85, sz: 11, a: "middle", c: j === 0 && v !== "5" ? "#ff0000" : "#000"});
  });
});
txt(kp, 751, 755, "kate yht", {b: 1, sz: 10});
txt(kp, 853, 755, kateYht[0], {b: 1, sz: 10.5, a: "middle"});
txt(kp, 903, 755, kateYht[1], {b: 1, sz: 10.5, a: "middle"});
txt(kp, 932.5, 755, "kate yht.", {b: 1, sz: 10});
txt(kp, 1039, 755, kateYht[2], {b: 1, sz: 10.5, a: "middle"});
txt(kp, 1083.5, 755, kateYht[3], {b: 1, sz: 10.5, a: "middle"});
txt(kp, 552, 768.3, "talv.aik.kp.", {b: 1, sz: 10.5, c: "#ff0000"});
txt(kp, 718, 768.3, talvAik[0], RC);
txt(kp, 771, 768.3, "ha", RC);
txt(kp, 869, 768.3, talvAik[1], {n: 0.85, sz: 11, a: "end", c: "#ff0000"});
txt(kp, 880, 768.3, "%", {n: 0.85, sz: 11, c: "#ff0000"});
txt(kp, 1045.5, 768.3, talvAik[2], {n: 0.85, sz: 11, a: "end", c: "#ff0000"});
txt(kp, 1065, 768.3, "%", {n: 0.85, sz: 11, c: "#ff0000"});
var erotusY = [781.7, 795];
erotus.forEach(function (e, i) {
  txt(kp, 831, erotusY[i], e[0], {sz: 11.5, tl: 39});
  txt(kp, 880.7, erotusY[i], "EROTUS", {sz: 11.5, tl: 43.5});
  txt(kp, 970, erotusY[i], e[1], {b: 1, sz: 10, a: "end"});
  txt(kp, 977.5, erotusY[i], "eur/v", {b: 1, sz: 10.5});
});
</script>
</body>
</html>
